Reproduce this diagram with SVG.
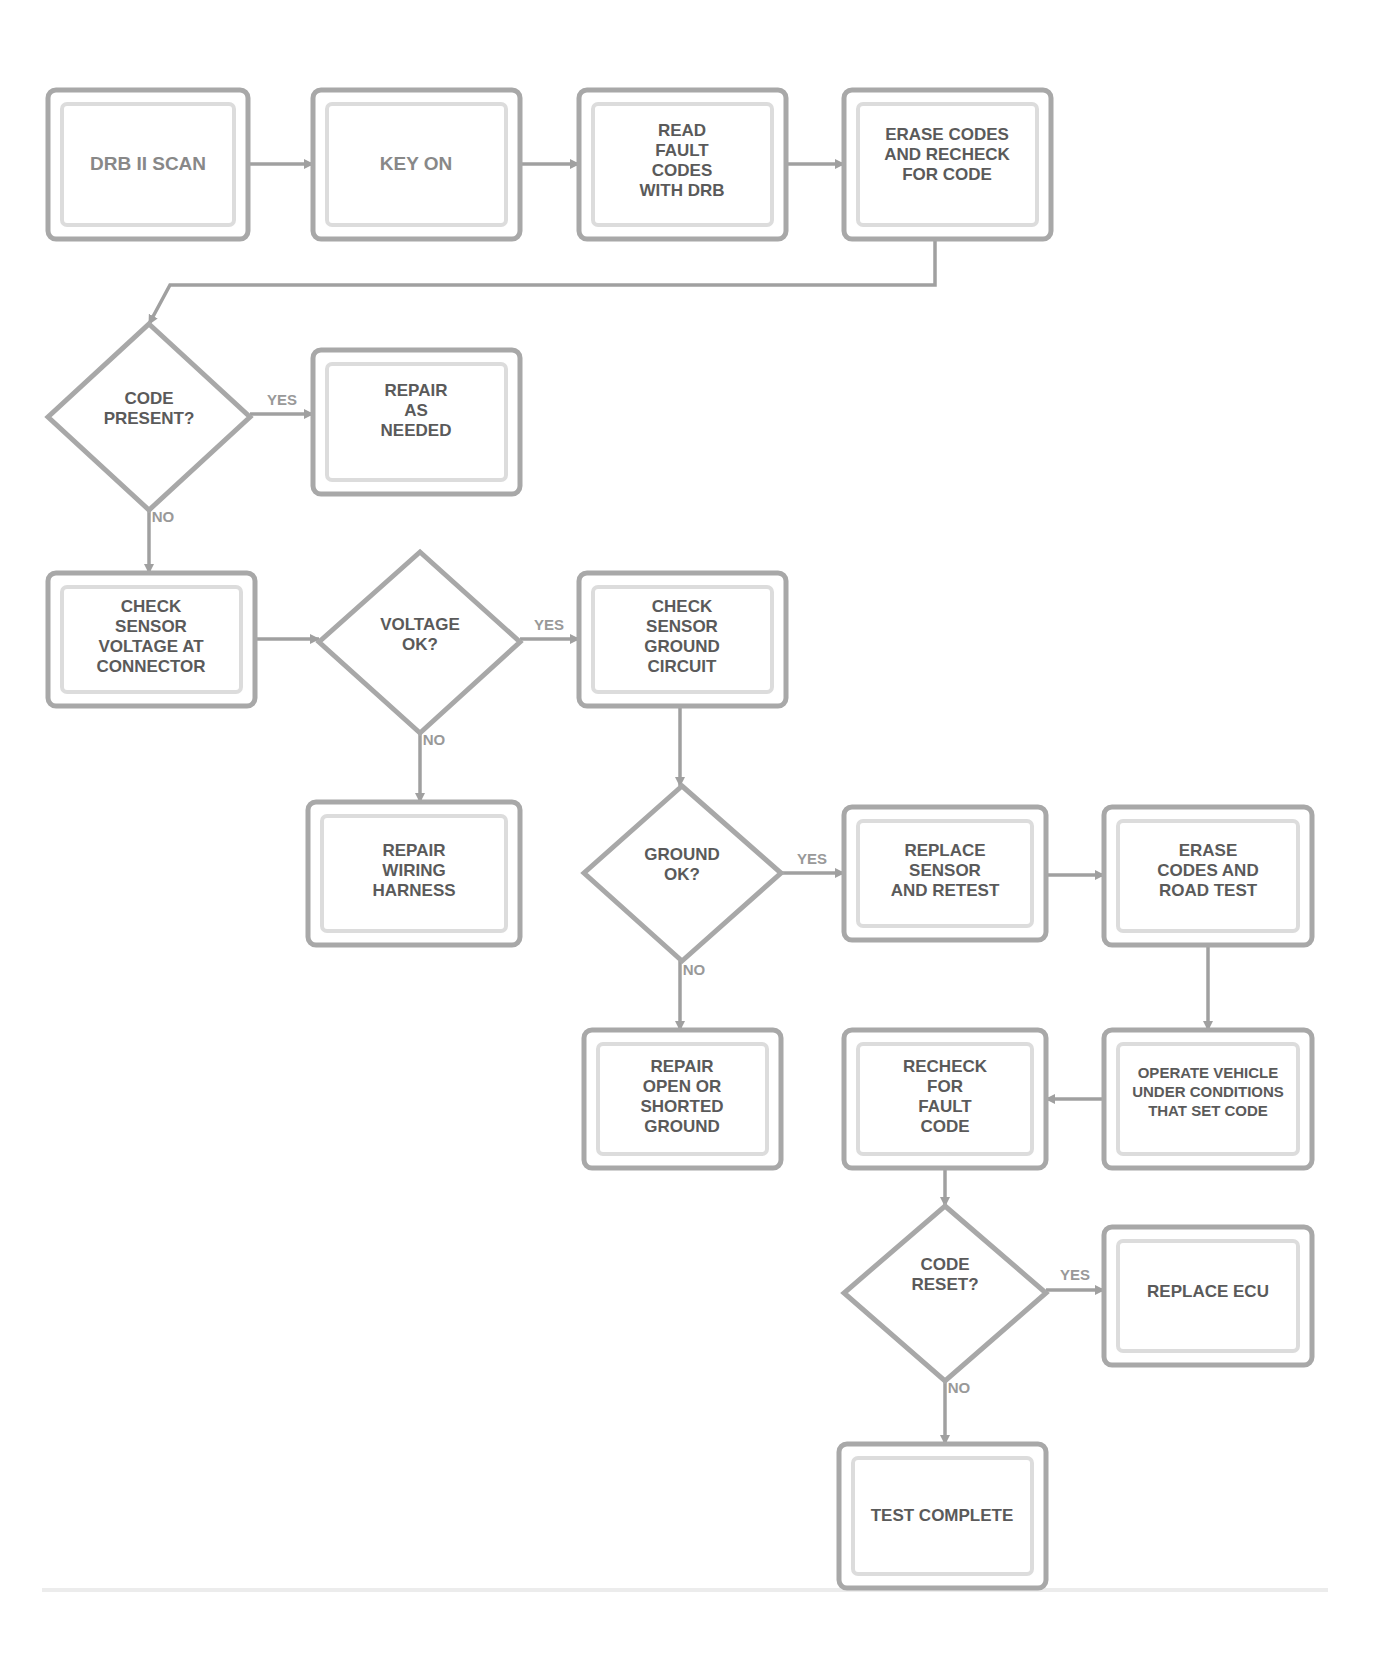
<svg xmlns="http://www.w3.org/2000/svg" width="1381" height="1680" viewBox="0 0 1381 1680">
<style>
.n{fill:#fff;stroke:#a8a8a8;stroke-width:5}
.in{fill:none;stroke:#dcdcdc;stroke-width:4}
.c{fill:none;stroke:#a0a0a0;stroke-width:3.5}
.t{font-family:"Liberation Sans",Arial,sans-serif;font-weight:bold;fill:#5a5a5a;text-anchor:middle}
.tb{font-size:19px;fill:#888}
.ts{font-size:17px}
.tm{font-size:15px}
.lb{font-family:"Liberation Sans",Arial,sans-serif;font-weight:bold;font-size:15px;fill:#999;text-anchor:middle}
</style>
<defs>
<marker id="ah" markerWidth="10" markerHeight="10" refX="9" refY="5" orient="auto" markerUnits="userSpaceOnUse">
<path d="M0,0 L10,5 L0,10 z" fill="#a0a0a0"/>
</marker>
</defs>
<rect width="1381" height="1680" fill="#fff"/>
<g id="connectors">
<path class="c" d="M248,164 L313,164" marker-end="url(#ah)"/>
<path class="c" d="M520,164 L579,164" marker-end="url(#ah)"/>
<path class="c" d="M786,164 L844,164" marker-end="url(#ah)"/>
<path class="c" d="M935,239 L935,285 L170,285 L149,324" marker-end="url(#ah)"/>
<path class="c" d="M250,414 L313,414" marker-end="url(#ah)"/>
<path class="c" d="M149,510 L149,573" marker-end="url(#ah)"/>
<path class="c" d="M255,639 L319,639" marker-end="url(#ah)"/>
<path class="c" d="M520,639 L579,639" marker-end="url(#ah)"/>
<path class="c" d="M420,733 L420,802" marker-end="url(#ah)"/>
<path class="c" d="M680,706 L680,786" marker-end="url(#ah)"/>
<path class="c" d="M781,873 L844,873" marker-end="url(#ah)"/>
<path class="c" d="M1046,875 L1104,875" marker-end="url(#ah)"/>
<path class="c" d="M680,961 L680,1030" marker-end="url(#ah)"/>
<path class="c" d="M1208,945 L1208,1030" marker-end="url(#ah)"/>
<path class="c" d="M1104,1099 L1046,1099" marker-end="url(#ah)"/>
<path class="c" d="M945,1168 L945,1206" marker-end="url(#ah)"/>
<path class="c" d="M1046,1290 L1104,1290" marker-end="url(#ah)"/>
<path class="c" d="M945,1381 L945,1444" marker-end="url(#ah)"/>
<path d="M42,1590 L1328,1590" stroke="#ececec" stroke-width="4" fill="none"/>
</g>
<g class="lbls">
<text class="lb" x="282" y="405">YES</text>
<text class="lb" x="163" y="522">NO</text>
<text class="lb" x="549" y="630">YES</text>
<text class="lb" x="434" y="745">NO</text>
<text class="lb" x="812" y="864">YES</text>
<text class="lb" x="694" y="975">NO</text>
<text class="lb" x="1075" y="1280">YES</text>
<text class="lb" x="959" y="1393">NO</text>
</g>
<g id="nA">
<rect class="n" x="48" y="90" width="200" height="149" rx="8"/>
<rect class="in" x="62" y="104" width="172" height="121" rx="5"/>
<text class="t tb" x="148" y="170">DRB II SCAN</text>
</g>
<g id="nB">
<rect class="n" x="313" y="90" width="207" height="149" rx="8"/>
<rect class="in" x="327" y="104" width="179" height="121" rx="5"/>
<text class="t tb" x="416" y="170">KEY ON</text>
</g>
<g id="nC">
<rect class="n" x="579" y="90" width="207" height="149" rx="8"/>
<rect class="in" x="593" y="104" width="179" height="121" rx="5"/>
<text class="t ts" x="682" y="136">READ</text>
<text class="t ts" x="682" y="156">FAULT</text>
<text class="t ts" x="682" y="176">CODES</text>
<text class="t ts" x="682" y="196">WITH DRB</text>
</g>
<g id="nD">
<rect class="n" x="844" y="90" width="207" height="149" rx="8"/>
<rect class="in" x="858" y="104" width="179" height="121" rx="5"/>
<text class="t ts" x="947" y="140">ERASE CODES</text>
<text class="t ts" x="947" y="160">AND RECHECK</text>
<text class="t ts" x="947" y="180">FOR CODE</text>
</g>
<g id="nQ1">
<polygon class="n" points="149,324 250,417 149,510 48,417"/>
<text class="t ts" x="149" y="404">CODE</text>
<text class="t ts" x="149" y="424">PRESENT?</text>
</g>
<g id="nE">
<rect class="n" x="313" y="350" width="207" height="144" rx="8"/>
<rect class="in" x="327" y="364" width="179" height="116" rx="5"/>
<text class="t ts" x="416" y="396">REPAIR</text>
<text class="t ts" x="416" y="416">AS</text>
<text class="t ts" x="416" y="436">NEEDED</text>
</g>
<g id="nF">
<rect class="n" x="48" y="573" width="207" height="133" rx="8"/>
<rect class="in" x="62" y="587" width="179" height="105" rx="5"/>
<text class="t ts" x="151" y="612">CHECK</text>
<text class="t ts" x="151" y="632">SENSOR</text>
<text class="t ts" x="151" y="652">VOLTAGE AT</text>
<text class="t ts" x="151" y="672">CONNECTOR</text>
</g>
<g id="nQ2">
<polygon class="n" points="420,552 520,642 420,733 319,642"/>
<text class="t ts" x="420" y="630">VOLTAGE</text>
<text class="t ts" x="420" y="650">OK?</text>
</g>
<g id="nG">
<rect class="n" x="579" y="573" width="207" height="133" rx="8"/>
<rect class="in" x="593" y="587" width="179" height="105" rx="5"/>
<text class="t ts" x="682" y="612">CHECK</text>
<text class="t ts" x="682" y="632">SENSOR</text>
<text class="t ts" x="682" y="652">GROUND</text>
<text class="t ts" x="682" y="672">CIRCUIT</text>
</g>
<g id="nH">
<rect class="n" x="308" y="802" width="212" height="143" rx="8"/>
<rect class="in" x="322" y="816" width="184" height="115" rx="5"/>
<text class="t ts" x="414" y="856">REPAIR</text>
<text class="t ts" x="414" y="876">WIRING</text>
<text class="t ts" x="414" y="896">HARNESS</text>
</g>
<g id="nQ3">
<polygon class="n" points="682,786 781,873 682,961 584,873"/>
<text class="t ts" x="682" y="860">GROUND</text>
<text class="t ts" x="682" y="880">OK?</text>
</g>
<g id="nI">
<rect class="n" x="844" y="807" width="202" height="133" rx="8"/>
<rect class="in" x="858" y="821" width="174" height="105" rx="5"/>
<text class="t ts" x="945" y="856">REPLACE</text>
<text class="t ts" x="945" y="876">SENSOR</text>
<text class="t ts" x="945" y="896">AND RETEST</text>
</g>
<g id="nJ">
<rect class="n" x="1104" y="807" width="208" height="138" rx="8"/>
<rect class="in" x="1118" y="821" width="180" height="110" rx="5"/>
<text class="t ts" x="1208" y="856">ERASE</text>
<text class="t ts" x="1208" y="876">CODES AND</text>
<text class="t ts" x="1208" y="896">ROAD TEST</text>
</g>
<g id="nK">
<rect class="n" x="584" y="1030" width="197" height="138" rx="8"/>
<rect class="in" x="598" y="1044" width="169" height="110" rx="5"/>
<text class="t ts" x="682" y="1072">REPAIR</text>
<text class="t ts" x="682" y="1092">OPEN OR</text>
<text class="t ts" x="682" y="1112">SHORTED</text>
<text class="t ts" x="682" y="1132">GROUND</text>
</g>
<g id="nL">
<rect class="n" x="844" y="1030" width="202" height="138" rx="8"/>
<rect class="in" x="858" y="1044" width="174" height="110" rx="5"/>
<text class="t ts" x="945" y="1072">RECHECK</text>
<text class="t ts" x="945" y="1092">FOR</text>
<text class="t ts" x="945" y="1112">FAULT</text>
<text class="t ts" x="945" y="1132">CODE</text>
</g>
<g id="nM">
<rect class="n" x="1104" y="1030" width="208" height="138" rx="8"/>
<rect class="in" x="1118" y="1044" width="180" height="110" rx="5"/>
<text class="t tm" x="1208" y="1078">OPERATE VEHICLE</text>
<text class="t tm" x="1208" y="1097">UNDER CONDITIONS</text>
<text class="t tm" x="1208" y="1116">THAT SET CODE</text>
</g>
<g id="nQ4">
<polygon class="n" points="945,1206 1046,1293 945,1381 844,1293"/>
<text class="t ts" x="945" y="1270">CODE</text>
<text class="t ts" x="945" y="1290">RESET?</text>
</g>
<g id="nN">
<rect class="n" x="1104" y="1227" width="208" height="138" rx="8"/>
<rect class="in" x="1118" y="1241" width="180" height="110" rx="5"/>
<text class="t ts" x="1208" y="1297">REPLACE ECU</text>
</g>
<g id="nO">
<rect class="n" x="839" y="1444" width="207" height="144" rx="8"/>
<rect class="in" x="853" y="1458" width="179" height="116" rx="5"/>
<text class="t ts" x="942" y="1521">TEST COMPLETE</text>
</g>
</svg>
